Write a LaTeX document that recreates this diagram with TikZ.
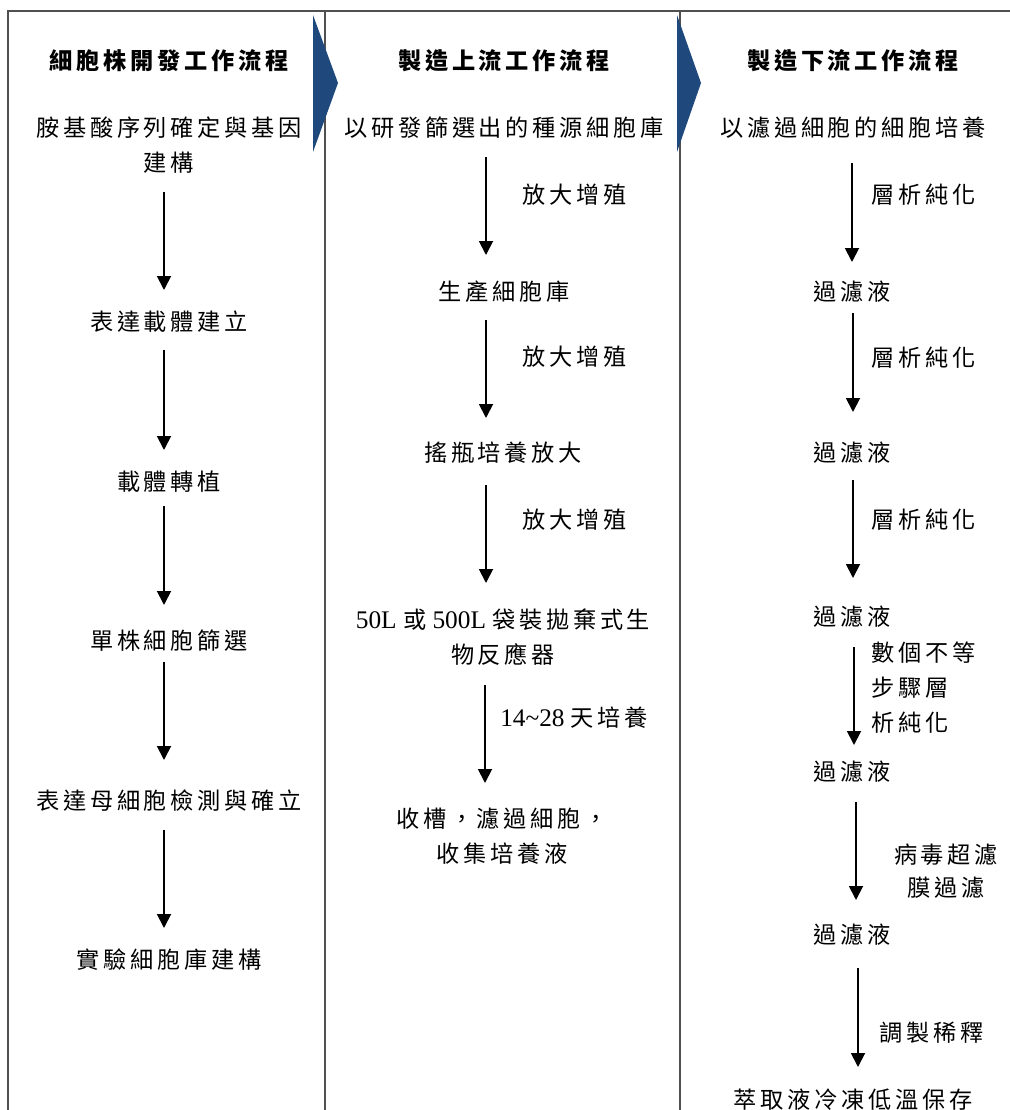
\documentclass[tikz,border=0pt]{standalone}
\usepackage{fontspec}
\setmainfont{Liberation Serif}
\newfontfamily\cjk[LetterSpace=16]{Noto Sans CJK TC}
\newfontfamily\latf{Liberation Serif}
\newcommand\lat{\latf\fontsize{19pt}{26pt}\selectfont}
\usetikzlibrary{arrows.meta}
\definecolor{chevc}{RGB}{31,73,125}
\definecolor{framec}{RGB}{80,80,80}
\begin{document}
\begin{tikzpicture}[x=0.75pt,y=-0.75pt,
  txt/.style={inner sep=0pt, font=\cjk\fontsize{17.4pt}{26.25pt}\selectfont, align=center},
  hdr/.style={txt, font=\cjk\bfseries\fontsize{17.4pt}{26.25pt}\selectfont},
  lbl/.style={txt, anchor=west, align=left},
  arr/.style={line width=1.4pt, -{Triangle[width=10.5pt,length=10.5pt]}},
  framel/.style={draw=framec, line width=0.8pt},
  chev/.style={fill=chevc}]
\useasboundingbox (0,0) rectangle (1010,1110);
% frame
\draw[framel] (8,1110) -- (8,11) -- (1010,11);
\draw[framel] (325,11) -- (325,1110);
\draw[framel] (680,11) -- (680,1110);
% chevrons
\fill[chev] (313,15) -- (338,83) -- (313,152) -- cycle;
\fill[chev] (677,15) -- (701,83) -- (677,152) -- cycle;

% column 1
\node[hdr] (h1) at (169,61) {細胞株開發工作流程};
\node[txt] (a1) at (169,145) {胺基酸序列確定與基因\\建構};
\node[txt] (a2) at (169,322) {表達載體建立};
\node[txt] (a3) at (169,482) {載體轉植};
\node[txt] (a4) at (169,641) {單株細胞篩選};
\node[txt] (a5) at (169,801) {表達母細胞檢測與確立};
\node[txt] (a6) at (169,960) {實驗細胞庫建構};
\coordinate (p1s) at (164,192); \coordinate (p1e) at (164,290);
\coordinate (p2s) at (164,350); \coordinate (p2e) at (164,450);
\coordinate (p3s) at (164,506); \coordinate (p3e) at (164,605);
\coordinate (p4s) at (164,662); \coordinate (p4e) at (164,760);
\coordinate (p5s) at (164,830); \coordinate (p5e) at (164,928);
\draw[arr] (p1s) -- (p1e);
\draw[arr] (p2s) -- (p2e);
\draw[arr] (p3s) -- (p3e);
\draw[arr] (p4s) -- (p4e);
\draw[arr] (p5s) -- (p5e);

% column 2
\node[hdr] (h2) at (504,61) {製造上流工作流程};
\node[txt] (b1) at (504,128) {以研發篩選出的種源細胞庫};
\node[txt] (b2) at (504,292) {生產細胞庫};
\node[txt] (b3) at (503,453) {搖瓶培養放大};
\node[txt] (b4) at (503,637) {{\lat 50L\ }或{\lat\ 500L\ }袋裝拋棄式生\\物反應器};
\node[txt] (b5) at (502,836) {收槽，濾過細胞，\\收集培養液};
\coordinate (q1s) at (486,157); \coordinate (q1e) at (486,255);
\coordinate (q2s) at (486,320); \coordinate (q2e) at (486,418);
\coordinate (q3s) at (486,485); \coordinate (q3e) at (486,583);
\coordinate (q4s) at (485,685); \coordinate (q4e) at (485,783);
\draw[arr] (q1s) -- (q1e);
\draw[arr] (q2s) -- (q2e);
\draw[arr] (q3s) -- (q3e);
\draw[arr] (q4s) -- (q4e);
\node[lbl] (l1) at (522,195) {放大增殖};
\node[lbl] (l2) at (522,357) {放大增殖};
\node[lbl] (l3) at (522,520) {放大增殖};
\node[lbl] (l4) at (500,718) {{\lat 14\char`\~28\ }天培養};

% column 3
\node[hdr] (h3) at (853,61) {製造下流工作流程};
\node[txt] (c1) at (853,128) {以濾過細胞的細胞培養};
\node[txt] (c2) at (852,292) {過濾液};
\node[txt] (c3) at (852,453) {過濾液};
\node[txt] (c4) at (852,617) {過濾液};
\node[txt] (c5) at (852,772) {過濾液};
\node[txt] (c6) at (852,935) {過濾液};
\node[txt] (c7) at (853,1100) {萃取液冷凍低溫保存};
\coordinate (r1s) at (852,163); \coordinate (r1e) at (852,262);
\coordinate (r2s) at (853,313); \coordinate (r2e) at (853,412);
\coordinate (r3s) at (853,480); \coordinate (r3e) at (853,578);
\coordinate (r4s) at (854,647); \coordinate (r4e) at (854,745);
\coordinate (r5s) at (856,802); \coordinate (r5e) at (856,900);
\coordinate (r6s) at (858,968); \coordinate (r6e) at (858,1067);
\draw[arr] (r1s) -- (r1e);
\draw[arr] (r2s) -- (r2e);
\draw[arr] (r3s) -- (r3e);
\draw[arr] (r4s) -- (r4e);
\draw[arr] (r5s) -- (r5e);
\draw[arr] (r6s) -- (r6e);
\node[lbl] (m1) at (871,195) {層析純化};
\node[lbl] (m2) at (871,358) {層析純化};
\node[lbl] (m3) at (871,520) {層析純化};
\node[lbl, font=\cjk\fontsize{17.4pt}{26.25pt}\selectfont] (m4) at (871,688) {數個不等\\步驟層\\析純化};
\node[txt, font=\cjk\fontsize{17.4pt}{24.75pt}\selectfont] (m5) at (946,871) {病毒超濾\\膜過濾};
\node[lbl] (m6) at (879,1033) {調製稀釋};
\end{tikzpicture}
\end{document}
